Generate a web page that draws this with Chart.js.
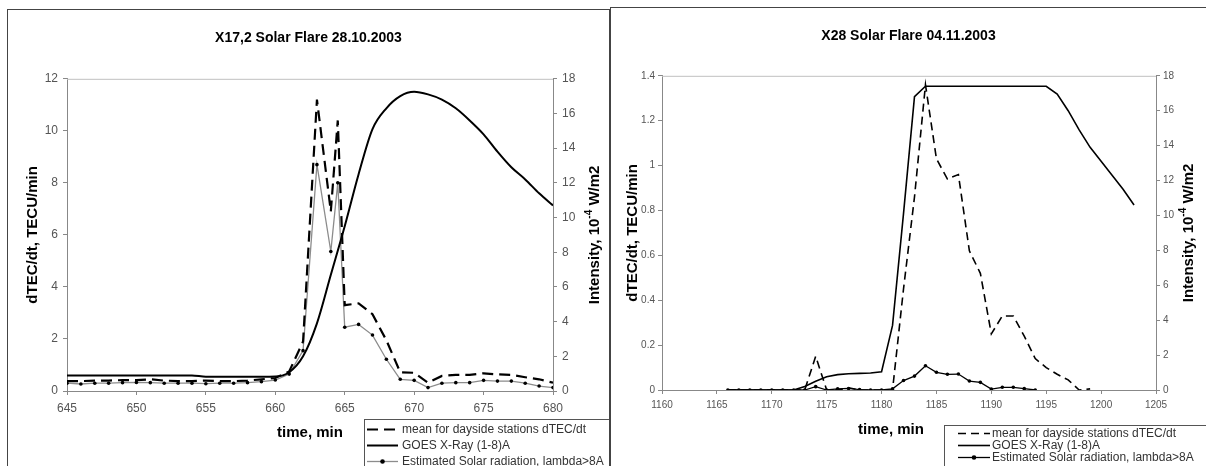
<!DOCTYPE html>
<html>
<head>
<meta charset="utf-8">
<title>Solar flares and dTEC/dt</title>
<script src="https://cdn.jsdelivr.net/npm/chart.js@4.4.1/dist/chart.umd.min.js"></script>
<style>
    body { margin: 0; background: #fff; width: 1206px; height: 466px; overflow: hidden; position: relative; }
    .panel { position: absolute; border: 1px solid #444; border-bottom: none; background: #fff; overflow: hidden; }
    #panelLeft { left: 7px; top: 9px; width: 601px; height: 460px; }
    #panelRight { left: 610px; top: 7px; width: 600px; height: 462px; }
    canvas { display: block; }
</style>
</head>
<body>
<div class="panel" id="panelLeft"><canvas id="flareLeft" width="601" height="456"></canvas></div>
<div class="panel" id="panelRight"><canvas id="flareRight" width="595" height="458"></canvas></div>
<script>
// X17,2 flare 28.10.2003 - dTEC/dt samples (one per minute, extra point at 664.5)
const minutesA = [645, 646, 647, 648, 649, 650, 651, 652, 653, 654, 655, 656, 657, 658, 659,
    660, 661, 662, 663, 664, 664.5, 665, 666, 667, 668, 669, 670, 671, 672, 673, 674, 675,
    676, 677, 678, 679, 680];
const tecMeanA = [0.38, 0.38, 0.4, 0.4, 0.42, 0.42, 0.45, 0.4, 0.38, 0.38, 0.4, 0.38, 0.38, 0.4, 0.45,
    0.5, 0.75, 1.9, 11.2, 6.9, 10.4, 3.3, 3.37, 2.95, 1.95, 0.72, 0.7, 0.32, 0.58, 0.62, 0.62, 0.68,
    0.64, 0.62, 0.53, 0.45, 0.32];
const solarEstA = [0.3, 0.27, 0.3, 0.3, 0.32, 0.33, 0.32, 0.3, 0.3, 0.3, 0.28, 0.3, 0.3, 0.32, 0.36,
    0.42, 0.65, 1.55, 8.7, 5.36, 8.0, 2.45, 2.56, 2.15, 1.22, 0.45, 0.41, 0.13, 0.3, 0.32, 0.32, 0.41,
    0.38, 0.38, 0.3, 0.19, 0.13];
// GOES X-ray flux, 10^-4 W/m2
const goesMinutesA = [645, 646, 647, 648, 649, 650, 651, 652, 653, 654, 655, 656, 657, 658, 659,
    660, 661, 662, 663, 664, 665, 666, 667, 668, 669, 670, 671, 672, 673, 674, 675, 676, 677,
    678, 679, 680];
const goesA = [0.9, 0.9, 0.9, 0.9, 0.9, 0.9, 0.9, 0.9, 0.9, 0.9, 0.82, 0.82, 0.82, 0.82, 0.82,
    0.83, 1.08, 2.0, 3.9, 6.7, 9.5, 12.5, 15.1, 16.3, 17.0, 17.25, 17.1, 16.8, 16.3, 15.6, 14.8,
    13.8, 12.9, 12.2, 11.4, 10.7];

// X28 flare 04.11.2003
const minutesB = [1166, 1167, 1168, 1169, 1170, 1171, 1172, 1173, 1174, 1175, 1176, 1177, 1178,
    1179, 1180, 1181, 1182, 1183, 1184, 1185, 1186, 1187, 1188, 1189, 1190, 1191, 1192, 1193,
    1194, 1195, 1196, 1197, 1198, 1199];
const tecMeanB = [0, 0, 0, 0, 0, 0, 0, 0, 0.15, 0, 0, 0.01, 0,
    0, 0, 0, 0.45, 0.86, 1.36, 1.03, 0.94, 0.96, 0.62, 0.52, 0.25, 0.33, 0.33, 0.24,
    0.14, 0.1, 0.07, 0.045, 0, 0.005];
const solarEstB = [0, 0, 0, 0, 0, 0, 0, 0, 0.015, 0, 0.005, 0.007, 0.002,
    0, 0, 0.005, 0.042, 0.062, 0.108, 0.079, 0.07, 0.071, 0.04, 0.034, 0.004, 0.012, 0.012, 0.006,
    0, null, null, null, null, null];
const goesMinutesB = [1166, 1167, 1168, 1169, 1170, 1171, 1172, 1173, 1174, 1175, 1176, 1177,
    1178, 1179, 1180, 1181, 1182, 1183, 1184, 1185, 1186, 1187, 1188, 1189, 1190, 1191, 1192,
    1193, 1194, 1195, 1196, 1197, 1198, 1199, 1200, 1201, 1202, 1203];
const goesB = [0, 0, 0, 0, 0, 0, 0, 0.2, 0.5, 0.76, 0.88, 0.93,
    0.95, 0.97, 1.05, 3.7, 10.1, 16.8, 17.4, 17.4, 17.4, 17.4, 17.4, 17.4, 17.4, 17.4, 17.4,
    17.4, 17.4, 17.4, 16.95, 16.0, 14.9, 13.9, 13.1, 12.3, 11.5, 10.6];

const legendLabels = ['mean for dayside stations dTEC/dt', 'GOES X-Ray (1-8)A',
    'Estimated Solar radiation, lambda>8A'];

const FONT = "'Liberation Sans', Arial, sans-serif";
Chart.defaults.font.family = FONT;

const toPoints = (xs, ys) => xs.map((x, i) => ({ x: x, y: ys[i] }));

// Light frame on top of the plot area (axes draw the other sides)
const plotFrame = {
    id: 'plotFrame',
    beforeDatasetsDraw(chart) {
        const { ctx, chartArea: a } = chart;
        ctx.save();
        ctx.strokeStyle = '#c0c0c0';
        ctx.lineWidth = 1;
        ctx.beginPath();
        ctx.moveTo(a.left, a.top + 0.5);
        ctx.lineTo(a.right, a.top + 0.5);
        ctx.stroke();
        ctx.restore();
    }
};

// x title and the right (upward reading) intensity title with superscript
const sideTitles = {
    id: 'sideTitles',
    afterDraw(chart, args, opts) {
        const { ctx, chartArea: a } = chart;
        ctx.save();
        ctx.fillStyle = '#000';
        ctx.textBaseline = 'middle';
        ctx.textAlign = 'center';
        ctx.font = 'bold 15px ' + FONT;
        ctx.fillText('time, min', opts.timeX, opts.timeY);

        ctx.translate(opts.intensityX, (a.top + a.bottom) / 2);
        ctx.rotate(-Math.PI / 2);
        ctx.textAlign = 'left';
        const parts = [['Intensity, 10', 15, 0], ['-4', 10, -6], [' W/m2', 15, 0]];
        let total = 0;
        parts.forEach(p => {
            ctx.font = 'bold ' + p[1] + 'px ' + FONT;
            total += ctx.measureText(p[0]).width;
        });
        let x = -total / 2;
        parts.forEach(p => {
            ctx.font = 'bold ' + p[1] + 'px ' + FONT;
            ctx.fillText(p[0], x, p[2]);
            x += ctx.measureText(p[0]).width;
        });
        ctx.restore();
    }
};

// Boxed legend in the lower right corner, built from the datasets
const boxLegend = {
    id: 'boxLegend',
    afterDraw(chart, args, opts) {
        const ctx = chart.ctx;
        ctx.save();
        ctx.fillStyle = '#fff';
        ctx.fillRect(opts.x, opts.y, opts.w, opts.h);
        ctx.strokeStyle = '#555';
        ctx.lineWidth = 1;
        ctx.strokeRect(opts.x + 0.5, opts.y + 0.5, opts.w, opts.h);
        ctx.font = opts.fontSize + 'px ' + FONT;
        ctx.textBaseline = 'middle';
        ctx.textAlign = 'left';
        chart.data.datasets.forEach((ds, i) => {
            const y = opts.rowY + i * opts.rowGap + 0.5;
            ctx.strokeStyle = ds.borderColor;
            ctx.lineWidth = ds.borderWidth;
            ctx.setLineDash(ds.borderDash || []);
            ctx.beginPath();
            ctx.moveTo(opts.lineX0, y);
            ctx.lineTo(opts.lineX1, y);
            ctx.stroke();
            ctx.setLineDash([]);
            if (ds.pointRadius > 0) {
                ctx.fillStyle = ds.pointBackgroundColor;
                ctx.beginPath();
                ctx.arc((opts.lineX0 + opts.lineX1) / 2, y, ds.pointRadius + 0.5, 0, Math.PI * 2);
                ctx.fill();
            }
            ctx.fillStyle = '#333';
            ctx.fillText(ds.label, opts.textX, y);
        });
        ctx.restore();
    }
};

// Function to build one flare panel
const makeFlareChart = (canvasId, cfg) => {
    const tickFont = { size: cfg.tickSize };
    const axisColor = '#888';
    new Chart(document.getElementById(canvasId), {
        type: 'line',
        data: {
            datasets: [
                {
                    label: legendLabels[0],
                    data: toPoints(cfg.tecX, cfg.tec),
                    yAxisID: 'y',
                    borderColor: '#000',
                    borderWidth: cfg.dashWidth,
                    borderDash: cfg.dash,
                    pointRadius: 0,
                    tension: 0
                },
                {
                    label: legendLabels[1],
                    data: toPoints(cfg.goesX, cfg.goes),
                    yAxisID: 'y2',
                    borderColor: '#000',
                    borderWidth: cfg.goesWidth,
                    pointRadius: 0,
                    cubicInterpolationMode: cfg.smoothGoes ? 'monotone' : 'default',
                    tension: 0
                },
                {
                    label: legendLabels[2],
                    data: toPoints(cfg.tecX, cfg.solar),
                    yAxisID: 'y',
                    borderColor: cfg.solarColor,
                    borderWidth: 1.3,
                    pointRadius: 1.8,
                    pointBackgroundColor: '#000',
                    pointBorderColor: '#000',
                    pointBorderWidth: 0,
                    tension: 0
                }
            ]
        },
        options: {
            responsive: false,
            animation: false,
            layout: { padding: 0 },
            plugins: {
                legend: { display: false },
                tooltip: { enabled: false },
                title: {
                    display: true,
                    text: cfg.title,
                    color: '#000',
                    font: { size: 14, weight: 'bold' },
                    padding: { top: cfg.titleTop, bottom: cfg.titleBottom }
                },
                sideTitles: cfg.sideTitles,
                boxLegend: cfg.legend
            },
            scales: {
                x: {
                    type: 'linear',
                    min: cfg.xMin,
                    max: cfg.xMax,
                    afterFit: s => { s.height = cfg.xHeight; },
                    ticks: { stepSize: 5, color: '#555', font: tickFont, padding: cfg.xPad,
                        maxRotation: 0, callback: v => String(v) },
                    grid: { drawOnChartArea: false, tickLength: 4, color: axisColor },
                    border: { color: axisColor }
                },
                y: {
                    position: 'left',
                    min: 0,
                    max: cfg.yMax,
                    afterFit: s => { s.width = cfg.yWidth; },
                    ticks: { stepSize: cfg.yStep, color: '#555', font: tickFont, padding: cfg.yPad,
                        callback: v => String(+v.toFixed(1)) },
                    grid: { drawOnChartArea: false, tickLength: 4, color: axisColor },
                    border: { color: axisColor },
                    title: {
                        display: true,
                        text: 'dTEC/dt, TECU/min',
                        color: '#000',
                        font: { size: 15, weight: 'bold' },
                        padding: { top: cfg.yTitlePad, bottom: 0 }
                    }
                },
                y2: {
                    position: 'right',
                    min: 0,
                    max: 18,
                    afterFit: s => { s.width = cfg.y2Width; },
                    ticks: { stepSize: 2, color: '#555', font: tickFont, padding: cfg.yPad,
                        callback: v => String(v) },
                    grid: { drawOnChartArea: false, tickLength: 4, color: axisColor },
                    border: { color: axisColor }
                }
            }
        },
        plugins: [plotFrame, sideTitles, boxLegend]
    });
};

makeFlareChart('flareLeft', {
    title: 'X17,2 Solar Flare 28.10.2003',
    tecX: minutesA, tec: tecMeanA, solar: solarEstA,
    goesX: goesMinutesA, goes: goesA,
    xMin: 645, xMax: 680, yMax: 12, yStep: 2,
    tickSize: 12, xPad: 6, yPad: 5,
    xHeight: 75, yWidth: 59, y2Width: 56,
    titleTop: 20, titleBottom: 32,
    yTitlePad: 16,
    dash: [11, 6], dashWidth: 2.2, goesWidth: 2, smoothGoes: true,
    solarColor: '#8c8c8c',
    sideTitles: { timeX: 302, timeY: 423, intensityX: 587 },
    legend: { x: 356, y: 409, w: 260, h: 60, rowY: 419, rowGap: 16,
        lineX0: 359, lineX1: 390, textX: 394, fontSize: 12 }
});

makeFlareChart('flareRight', {
    title: 'X28 Solar Flare 04.11.2003',
    tecX: minutesB, tec: tecMeanB, solar: solarEstB,
    goesX: goesMinutesB, goes: goesB,
    xMin: 1160, xMax: 1205, yMax: 1.4, yStep: 0.2,
    tickSize: 10, xPad: 5, yPad: 3,
    xHeight: 76, yWidth: 51, y2Width: 50,
    titleTop: 20, titleBottom: 31,
    yTitlePad: 13,
    dash: [8, 5], dashWidth: 1.6, goesWidth: 1.6, smoothGoes: false,
    solarColor: '#000',
    sideTitles: { timeX: 280, timeY: 422, intensityX: 578 },
    legend: { x: 333, y: 417, w: 280, h: 60, rowY: 425, rowGap: 12,
        lineX0: 347, lineX1: 379, textX: 381, fontSize: 12 }
});
</script>
</body>
</html>
